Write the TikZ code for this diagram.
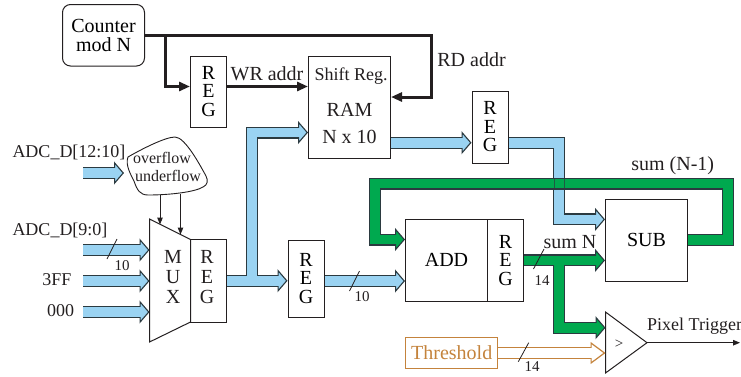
\documentclass[tikz,border=0pt]{standalone}
\usepackage{fontspec}
\setmainfont{Liberation Serif}
\usetikzlibrary{arrows.meta,calc}
\definecolor{ink}{HTML}{231F20}
\definecolor{busedge}{HTML}{2B3A40}
\definecolor{busblue}{HTML}{9AD3F2}
\definecolor{busgreen}{HTML}{00A94F}
\definecolor{thr}{HTML}{C4833C}
\tikzset{
  box/.style={draw=ink,line width=1pt,inner sep=0pt,align=center,font=\fontsize{20}{18.5}\selectfont},
  txt/.style={inner sep=0pt,align=center,text=ink,font=\fontsize{#1}{#1}\selectfont},
  busout/.style={line width=12pt,draw=busedge,miter limit=10,
    -{Triangle[length=10pt,width=23pt,line width=1.1pt,fill=#1,color=busedge]}},
  busin/.style={line width=9.8pt,draw=#1,shorten >=8pt},
  ctrl/.style={line width=3pt,draw=ink,-{Triangle[length=11pt,width=9pt]}},
  wire/.style={line width=1pt,draw=ink,-{Triangle[length=7pt,width=5.5pt]}},
  slash/.style={line width=.8pt,draw=ink}
}
\newcommand{\bus}[2]{\draw[busout=#1] #2; \draw[busin=#1] #2;}
\newcommand{\busT}[3]{\draw[busout=#1] #2; \draw[busout=#1] #3; \draw[busin=#1] #2; \draw[busin=#1] #3;}
\begin{document}
\begin{tikzpicture}[x=1pt,y=-1pt]
\useasboundingbox (0,0) rectangle (741,376);
% boxes
\node[box,rounded corners=8pt,minimum width=82pt,minimum height=61.5pt] (cnt) at (103.5,35.25) {Counter\\mod N};
\node[box,minimum width=36pt,minimum height=71pt] (reg1) at (208.5,91.5) {R\\E\\G};
\node[box,minimum width=82pt,minimum height=102pt] (ram) at (349.5,107) {};
\node[txt=18] (shiftt) at (351,76) {Shift Reg.};
\node[txt=20] (ramt) at (349.5,110) {RAM};
\node[txt=20] (ramn) at (349.5,137) {N x 10};
\node[box,minimum width=36pt,minimum height=72pt] (reg4) at (490,127) {R\\E\\G};
\node[box,minimum width=36pt,minimum height=82.5pt] (reg2) at (208.5,280.75) {};
\node[txt=20] (reg2t) at (207,277) {\fontsize{20}{18.5}\selectfont R\\E\\G};
\node[box,minimum width=36pt,minimum height=77pt] (reg3) at (306,278.5) {R\\E\\G};
\node[box,minimum width=82pt,minimum height=82pt] (add) at (446.5,260.4) {ADD};
\node[box,minimum width=36pt,minimum height=82pt] (reg5) at (505.6,260.4) {R\\E\\G};
\node[box,minimum width=82pt,minimum height=82pt] (sub) at (646.5,240.2) {SUB};
\node[box,draw=thr,minimum width=92pt,minimum height=30.5pt,text=thr] (thresh) at (451.7,353) {Threshold};
% MUX
\draw[line width=1pt,draw=ink] (149.5,219) -- (190.5,239.5) -- (190.5,322) -- (149.5,342) -- cycle;
\node[txt=20] (muxt) at (173,277) {\fontsize{20}{18.5}\selectfont M\\U\\X};
\coordinate (muxA) at (149.5,250);
\coordinate (muxB) at (149.5,281);
\coordinate (muxC) at (149.5,312);
\coordinate (muxS1) at (160,224.5);
\coordinate (muxS2) at (180.5,234.5);
% comparator
\draw[line width=1pt,draw=ink] (605.5,312) -- (647,342.7) -- (605.5,373) -- cycle;
\coordinate (cmpA) at (605.5,327.7);
\coordinate (cmpB) at (605.5,353);
\coordinate (cmpO) at (647,342.7);
\coordinate (out) at (740,342.7);
\node[txt=15] (cmpt) at (619,344) {>};
% blob
\draw[line width=.9pt,draw=ink] (175,137) .. controls (165,137) and (140,150) .. (128,157)
  .. controls (125,165) and (131,175) .. (134,181)
  .. controls (137,190) and (140,195) .. (148,195)
  .. controls (170,195) and (195,192) .. (203,187)
  .. controls (208,185) and (208,180) .. (206,176)
  .. controls (200,165) and (185,137) .. (175,137) -- cycle;
\node[txt=16] (ovf) at (162,158) {overflow};
\node[txt=16] (unf) at (168,175.5) {underflow};
\coordinate (blobA) at (160,194.6);
\coordinate (blobB) at (180.5,193.6);
% input start points
\coordinate (inD) at (83,173);
\coordinate (inDend) at (124,173);
\coordinate (inA) at (83,250);
\coordinate (inB) at (83,281);
\coordinate (inC) at (83,312);
% labels
\node[txt=18] (l1) at (69,152) {ADC\_D[12:10]};
\node[txt=18] (l2) at (60,230) {ADC\_D[9:0]};
\node[txt=18] (l3) at (57,280) {3FF};
\node[txt=18] (l4) at (60.5,311) {000};
\node[txt=20] (wr) at (267,74) {WR addr};
\node[txt=20] (rd) at (471.5,60) {RD addr};
\node[txt=20] (sumnm) at (672.7,166) {sum (N-1)};
\node[txt=20] (sumn) at (570,242) {sum N};
\node[txt=18,anchor=west] (pix) at (647,326) {Pixel Trigger};
\node[txt=15] (w1) at (122,265.5) {10};
\node[txt=15] (w2) at (362,297) {10};
\node[txt=15] (w3) at (542,281) {14};
\node[txt=15] (w4) at (532,367) {14};
% control
\draw[ctrl] (cnt.east) -- (165,35.25) -- (165,86.5) -- (reg1.west |- 0,86.5);
\draw[ctrl] (reg1.east |- 0,86.5) -- (ram.west |- 0,86.5);
\draw[ctrl] (cnt.east) -- (431.7,35.25) -- (431.7,97) -- (ram.east |- 0,97);
\draw[wire] (blobA) -- (muxS1);
\draw[wire] (blobB) -- (muxS2);
\draw[wire] (cmpO) -- (out);
% blue buses
\bus{busblue}{(inD) -- (inDend)}
\bus{busblue}{(inA) -- (muxA)}
\bus{busblue}{(inB) -- (muxB)}
\bus{busblue}{(inC) -- (muxC)}
\busT{busblue}{(reg2.east) -- (reg3.west |- reg2.east)}{(252,280.75) -- (252,132.5) -- (ram.west |- 0,132.5)}
\bus{busblue}{(reg3.east |- 0,281) -- (add.west |- 0,281)}
\bus{busblue}{(ram.east |- 0,142.7) -- (reg4.west |- 0,142.7)}
\bus{busblue}{(reg4.east |- 0,142.7) -- (559.3,142.7) -- (559.3,219.4) -- (sub.west |- 0,219.4)}
% green buses
\bus{busgreen}{(sub.east) -- (728.3,240.2) -- (728.3,183.5) -- (375,183.5) -- (375,239.5) -- (add.west |- 0,239.5)}
\busT{busgreen}{(reg5.east) -- (sub.west |- reg5.east)}{(559.3,260.4) -- (559.3,327.7) -- (cmpA)}
\draw[line width=.6pt,draw=busedge,opacity=.7] (554.2,178) -- (554.2,189) (564.4,178) -- (564.4,189);
% threshold
\draw[line width=12pt,draw=thr,-{Triangle[length=15pt,width=22pt,line width=1.2pt,fill=white,color=thr]}] (thresh.east) -- (cmpB);
\draw[line width=9.6pt,draw=white,shorten >=13pt] (thresh.east) -- (cmpB);
% width slashes
\draw[slash] (107,259) -- (117,239);
\draw[slash] (349.5,291) -- (359.5,271);
\draw[slash] (533.5,269) -- (544,249);
\draw[slash] (518.3,361.7) -- (528.7,342.7);
\end{tikzpicture}
\end{document}
